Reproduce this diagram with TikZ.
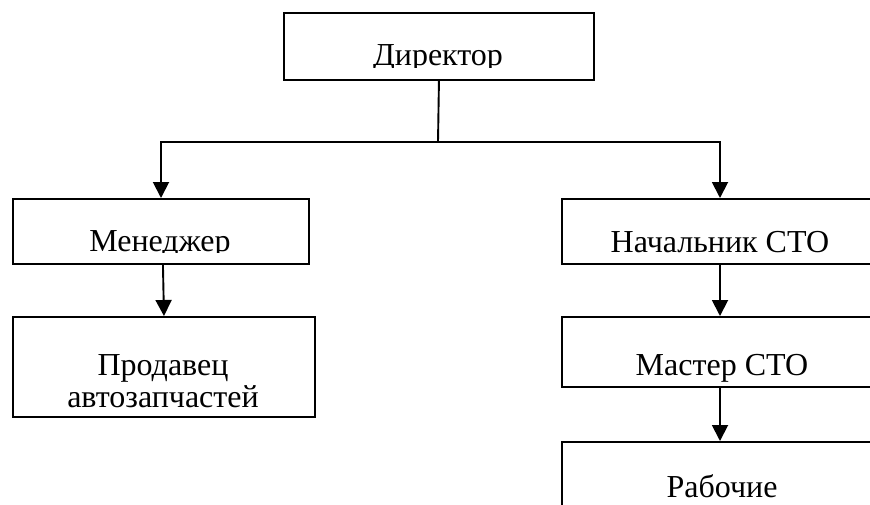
\documentclass[tikz,border=0pt]{standalone}
\usepackage{fontspec}
\setmainfont{Liberation Serif}
\usetikzlibrary{arrows.meta}
\begin{document}
\begin{tikzpicture}[x=1pt,y=1pt,
 box/.style={draw, line width=1.9pt, inner sep=0pt, anchor=north west},
 lbl/.style={anchor=base, inner sep=0pt, font=\fontsize{32}{36}\selectfont},
 conn/.style={line width=1.9pt},
 arr/.style={line width=1.9pt, -{Triangle[width=16pt,length=16pt]}}]
\useasboundingbox (0,0) rectangle (870,-504);
% boxes
\node[box, minimum width=310pt, minimum height=67pt] (dir) at (283,-12) {};
\node[box, minimum width=296pt, minimum height=65pt] (men) at (12,-198) {};
\node[box, minimum width=302pt, minimum height=100pt] (prod) at (12,-316) {};
\node[box, minimum width=318pt, minimum height=65pt] (nach) at (561,-198) {};
\node[box, minimum width=318pt, minimum height=70pt] (mast) at (561,-316) {};
\node[box, minimum width=318pt, minimum height=70pt] (rab) at (561,-441) {};
% labels
\begin{scope}
\clip (283,-12) rectangle (593,-67);
\node[lbl] (dirt) at (438,-65) {Директор};
\end{scope}
\begin{scope}
\clip (12,-198) rectangle (308,-252);
\node[lbl] (ment) at (160,-251) {Менеджер};
\end{scope}
\node[lbl] (prodt1) at (163,-375) {Продавец};
\node[lbl] (prodt2) at (163,-407) {автозапчастей};
\node[lbl] (nacht) at (720,-252) {Начальник СТО};
\node[lbl] (mastt) at (722,-375) {Мастер СТО};
\node[lbl] (rabt) at (722,-497) {Рабочие};
% connectors
\coordinate (hub) at (438,-142);
\coordinate (hl) at (161,-142);
\coordinate (hr) at (720,-142);
\draw[conn] (dir.south) -- (hub);
\draw[arr] (hub) -- (hl) -- (hl |- men.north);
\draw[arr] (hub) -- (hr) -- (hr |- nach.north);
\draw[arr] ([xshift=2pt]men.south) -- (prod.north);
\draw[arr] (nach.south -| hr) -- (mast.north -| hr);
\draw[arr] (mast.south -| hr) -- (rab.north -| hr);
\end{tikzpicture}
\end{document}
